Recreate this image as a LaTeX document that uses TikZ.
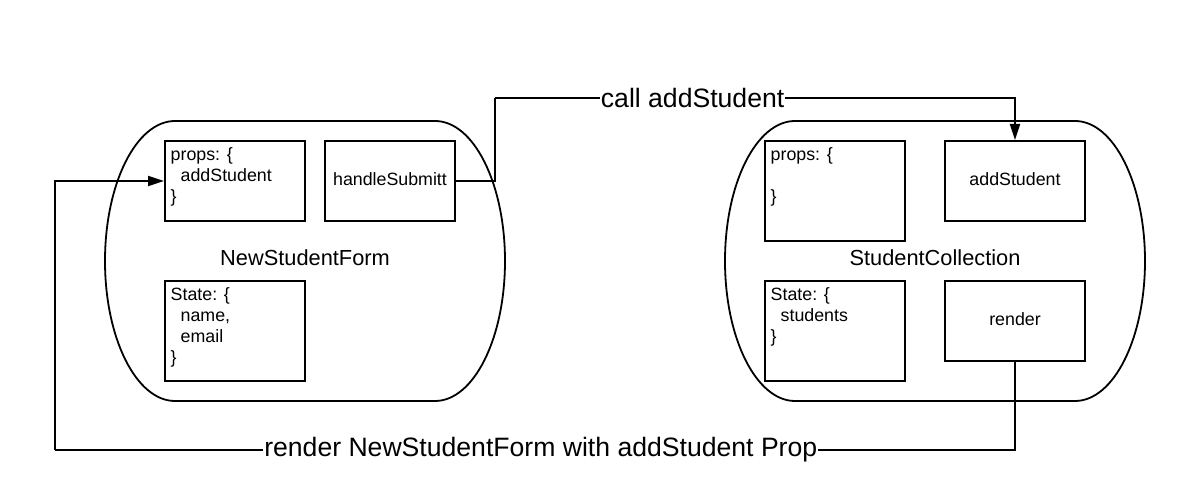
\documentclass[tikz,border=0pt]{standalone}
\usepackage{fontspec}
\setmainfont{Liberation Sans}
\usetikzlibrary{arrows.meta}

\tikzset{
	part/.style={shape=rectangle,draw=black,line width=2pt,minimum width=140pt,minimum height=80pt,inner sep=0pt,font=\fontsize{17.8}{21}\selectfont},
	parttext/.style={anchor=north west,align=left,inner sep=0pt,font=\fontsize{17.8}{21}\selectfont},
	title/.style={font=\fontsize{21.8}{26}\selectfont},
	component/.style={draw=black,line width=1.8pt},
	flow/.style={draw=black,line width=2pt,-{Triangle[length=16pt,width=10pt]}},
	flowlabel/.style={fill=white,inner sep=1pt,font=\fontsize{26.6}{30}\selectfont}
}

\begin{document}
\begin{tikzpicture}[x=1pt,y=-1pt]
	\useasboundingbox (0,0) rectangle (1179,486);
	\draw[component] (175,121) -- (435,121) .. controls (473.7,121) and (505,183.7) .. (505,261) .. controls (505,338.3) and (473.7,401) .. (435,401) -- (175,401) .. controls (136.3,401) and (105,338.3) .. (105,261) .. controls (105,183.7) and (136.3,121) .. (175,121) -- cycle;
	\draw[component] (795,121) -- (1075,121) .. controls (1113.7,121) and (1145,183.7) .. (1145,261) .. controls (1145,338.3) and (1113.7,401) .. (1075,401) -- (795,401) .. controls (756.3,401) and (725,338.3) .. (725,261) .. controls (725,183.7) and (756.3,121) .. (795,121) -- cycle;
	\node[part] (formprops) at (235, 181) {};
	\node[part,minimum width=130pt] (submit) at (390, 181) {\raisebox{4pt}{handleSubmitt}};
	\node[part,minimum height=100pt] (formstate) at (235, 331) {};
	\node[title] (formname) at (305, 258) {NewStudentForm};
	\node[part,minimum height=100pt] (collprops) at (835, 191) {};
	\node[part] (addstudent) at (1015, 181) {\raisebox{4pt}{addStudent}};
	\node[part,minimum height=100pt] (collstate) at (835, 331) {};
	\node[part] (render) at (1015, 321) {\raisebox{4pt}{render}};
	\node[title] (collname) at (935, 258) {StudentCollection};
	\node[parttext] (formpropstext) at (170.5, 147.5) {props: \{\\\hspace*{10pt}addStudent\\\}};
	\node[parttext] (formstatetext) at (170.5, 287.5) {State: \{\\\hspace*{10pt}name,\\\hspace*{10pt}email\\\}};
	\node[parttext] (collpropstext) at (770.5, 147.5) {props: \{\\\mbox{}\\\}};
	\node[parttext] (collstatetext) at (770.5, 287.5) {State: \{\\\hspace*{10pt}students\\\}};
	\coordinate (callbend) at (495, 98);
	\coordinate (renderbend) at (55, 450);
	\draw[line width=2pt] (submit.east) -| (callbend);
	\draw[flow] (callbend) -| node[flowlabel,pos=0.19] {call addStudent} (addstudent.north);
	\draw[line width=2pt] (render.south) |- node[flowlabel,pos=0.747] {render NewStudentForm with addStudent Prop} (renderbend);
	\draw[flow] (renderbend) |- (formprops.west);
\end{tikzpicture}
\end{document}
